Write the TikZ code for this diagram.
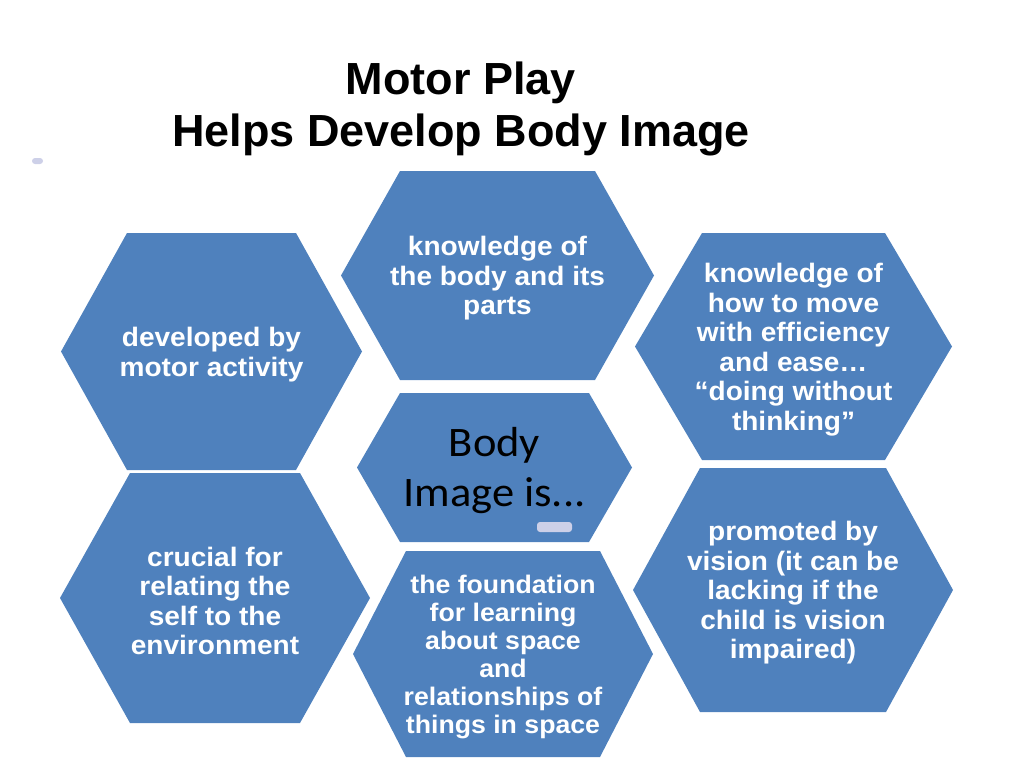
\documentclass[tikz,border=0pt]{standalone}
\usepackage{fontspec}
\setmainfont{Liberation Sans}
\newfontfamily\titlefont{Liberation Sans}
\newfontfamily\hexfont[FakeStretch=1.05]{Liberation Sans}
\newfontfamily\corefont[FakeStretch=1.06]{Carlito}
\usetikzlibrary{calc}
\definecolor{hexblue}{RGB}{79,129,189}
\definecolor{tabgrey}{RGB}{205,208,232}

\begin{document}
\begin{tikzpicture}[x=1pt,y=-1pt,
		hexa/.style={fill=hexblue},
		hextext/.style={text=white, align=center, yshift=-3pt, font=\hexfont\bfseries\fontsize{26.7}{29.5}\selectfont},
		headline/.style={anchor=base, font=\titlefont\bfseries\fontsize{45}{52}\selectfont},
		tab/.style={fill=tabgrey, rounded corners=3pt}]
	\useasboundingbox (0,0) rectangle (1024,768);

	% hexagons: centre x / centre y / half width / half height / inset
	\foreach \cx/\cy/\hw/\hh/\ins in {211.5/351.5/150.5/118.5/66, 215/598/155/125/70,
			497.5/275.5/156.5/104.5/59, 494.5/467.5/137.5/74.5/43, 503/654/150/103/53,
			793.5/346.5/158.5/113.5/67, 793/590/160/122/67}
		\fill[hexa] (\cx-\hw,\cy) -- (\cx-\hw+\ins,\cy-\hh) -- (\cx+\hw-\ins,\cy-\hh)
			-- (\cx+\hw,\cy) -- (\cx+\hw-\ins,\cy+\hh) -- (\cx-\hw+\ins,\cy+\hh) -- cycle;

	\node[headline] (head1) at (461,94) {Motor Play};
	\node[headline] (head2) at (461,146) {Helps Develop Body Image};

	\node[hextext] (developed) at (211.5,351.5) {developed by\\motor activity};
	\node[hextext] (crucial) at (215,598) {crucial for\\relating the\\self to the\\environment};
	\node[hextext] (knowledge) at (497.5,275.5) {knowledge of\\the body and its\\parts};
	\node[text=black, align=center, yshift=-3pt, font=\corefont\fontsize{42}{50}\selectfont] (core) at (494.5,467.5) {Body\\Image is...};
	\node[hextext, font=\hexfont\bfseries\fontsize{25.4}{28}\selectfont] (foundation) at (503,654) {the foundation\\for learning\\about space\\and\\relationships of\\things in space};
	\node[hextext] (moving) at (793.5,346.5) {knowledge of\\how to move\\with efficiency\\and ease…\\“doing without\\thinking”};
	\node[hextext] (vision) at (793,590) {promoted by\\vision (it can be\\lacking if the\\child is vision\\impaired)};

	% small grey tabs
	\fill[tab] (32,158) rectangle (43,164);
	\fill[tab] (537,522) rectangle (572,532);
\end{tikzpicture}
\end{document}
